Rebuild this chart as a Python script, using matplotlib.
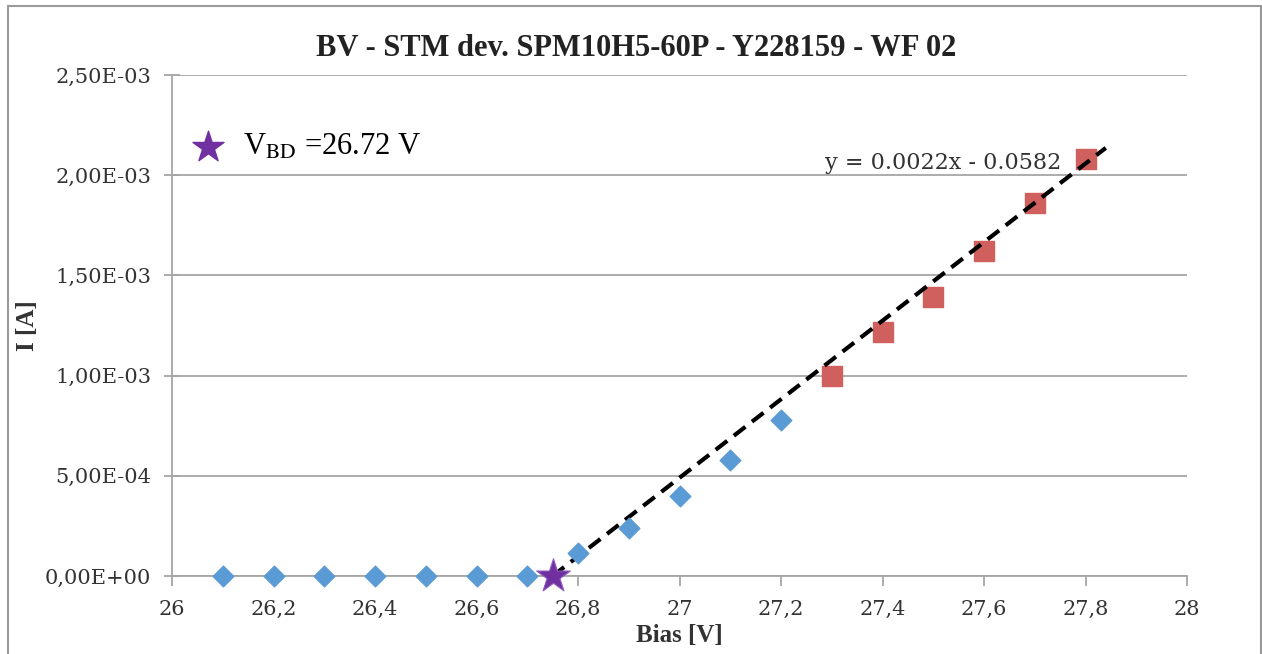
import numpy as np
import matplotlib.pyplot as plt
from matplotlib.patches import Rectangle
from matplotlib.ticker import FuncFormatter, MultipleLocator

plt.rcParams["mathtext.fontset"] = "stix"

# ====== DATA ======
bias_low = [26.1, 26.2, 26.3, 26.4, 26.5, 26.6, 26.7, 26.8, 26.9, 27.0, 27.1, 27.2]
curr_low = [0.0, 0.0, 0.0, 0.0, 0.0, 0.0, 0.0, 0.115e-3, 0.24e-3, 0.40e-3, 0.58e-3, 0.78e-3]

bias_high = [27.3, 27.4, 27.5, 27.6, 27.7, 27.8]
curr_high = [1.00e-3, 1.22e-3, 1.39e-3, 1.62e-3, 1.86e-3, 2.08e-3]

vbd_x = [26.75]
vbd_y = [0.0]

# dashed trend line (as drawn)
fit_slope = 1.96e-3
fit_x0 = 26.75
fit_x1 = 27.84

title = "BV - STM dev. SPM10H5-60P - Y228159 - WF 02"
eq_text = "y = 0.0022x - 0.0582"

GRAY = "#a6a6a6"
BLUE = "#5b9bd5"
RED = "#d0605e"
PURPLE = "#7030a0"

# ====== FIGURE ======
fig = plt.figure(figsize=(12.62, 6.54), dpi=100)
fig.patches.append(Rectangle((8 / 1262, -0.05), (1261 - 8) / 1262, 1 - 6 / 654 + 0.05,
                             transform=fig.transFigure, fill=False,
                             edgecolor="#9a9a9a", linewidth=1.5))
ax = fig.add_axes([172 / 1262, 1 - 576 / 654, (1187 - 172) / 1262, (576 - 75) / 654])

ax.set_xlim(26, 28)
ax.set_ylim(0, 2.5e-3)
ax.xaxis.set_major_locator(MultipleLocator(0.2))
ax.yaxis.set_major_locator(MultipleLocator(0.5e-3))

ax.grid(axis="y", color=GRAY, linewidth=1.3)
ax.set_axisbelow(True)
for s in ["top", "right"]:
    ax.spines[s].set_visible(False)
for s in ["left", "bottom"]:
    ax.spines[s].set_color(GRAY)
    ax.spines[s].set_linewidth(1.3)

ax.tick_params(axis="x", direction="out", length=7, color=GRAY, width=1.3,
               labelsize=15, pad=10)
ax.tick_params(axis="y", direction="inout", length=12, color=GRAY, width=1.3,
               labelsize=15, pad=9)

ax.xaxis.set_major_formatter(FuncFormatter(lambda v, p: f"{v:g}".replace(".", ",")))
ax.yaxis.set_major_formatter(FuncFormatter(
    lambda v, p: f"{v:.2E}".replace(".", ",")))
for lab in ax.get_xticklabels() + ax.get_yticklabels():
    lab.set_family("DejaVu Serif")
    lab.set_color("#333333")

# ====== MARKS ======
xs = np.array([fit_x0, fit_x1])
ax.plot(xs, fit_slope * (xs - fit_x0), color="black", linestyle=(0, (3.5, 2)),
        linewidth=3, zorder=3, clip_on=False)
ax.scatter(bias_low, curr_low, marker="D", s=110, color=BLUE, zorder=4, clip_on=False)
ax.scatter(bias_high, curr_high, marker="s", s=200, color=RED, zorder=2, clip_on=False)
ax.scatter(vbd_x, vbd_y, marker="*", s=650, color=PURPLE, zorder=5, clip_on=False,
           edgecolors="#8e5bc0", linewidths=0.8)

# ====== TEXT ======
fig.text(636 / 1262, 1 - 48 / 654, title, fontsize=22, fontweight="bold",
         family="Liberation Serif", color="#222222", ha="center", va="center")
ax.set_xlabel("Bias [V]", fontsize=18, fontweight="bold", family="Liberation Serif",
              labelpad=4, color="#333333")
ax.set_ylabel("I [A]", fontsize=18, fontweight="bold", family="Liberation Serif",
              labelpad=4, color="#333333")

ax.text(27.52, 2.06e-3, eq_text, fontsize=16, family="DejaVu Serif",
        ha="center", va="center", color="#333333")

ax.scatter([26.07], [2.14e-3], marker="*", s=550, color=PURPLE, clip_on=False, zorder=5)
ax.text(26.14, 2.14e-3, r"V$_{\mathrm{BD}}$ =26.72 V", fontsize=22,
        family="Liberation Serif", va="center", ha="left")

fig.savefig("out.png", dpi=100)
